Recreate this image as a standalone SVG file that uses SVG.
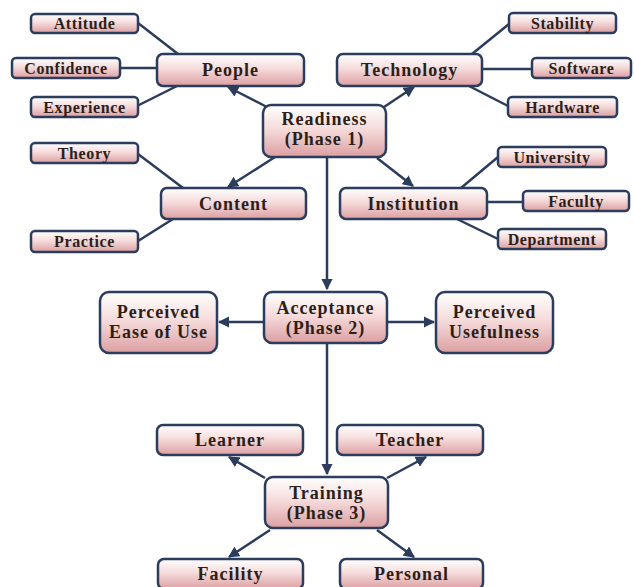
<svg xmlns="http://www.w3.org/2000/svg" width="634" height="587" viewBox="0 0 634 587">
<defs>
<linearGradient id="g" x1="0" y1="0" x2="0" y2="1">
<stop offset="0" stop-color="#ffffff"/>
<stop offset="0.45" stop-color="#f6dcdc"/>
<stop offset="1" stop-color="#dc9fa2"/>
</linearGradient>
<marker id="ah" viewBox="0 0 10 10" refX="9" refY="5" markerWidth="4.5" markerHeight="4.5" orient="auto" markerUnits="strokeWidth">
<path d="M0,0 L10,5 L0,10 Z" fill="#2b3c5c"/>
</marker>
</defs>
<style>
rect{fill:url(#g);stroke:#2b3c5c;stroke-width:2.5}
text{font-family:"Liberation Serif","Times New Roman",serif;font-weight:bold;fill:#2b1f1a;text-anchor:middle}
.s{font-size:16px;letter-spacing:0.6px}
.b{font-size:18px;letter-spacing:1px}
.c line{stroke:#2b3c5c;stroke-width:2.5}
.a{marker-end:url(#ah)}
</style>
<g class="c" id="connectors">
<line x1="138" y1="23" x2="178" y2="54"/>
<line x1="120" y1="68" x2="157" y2="68"/>
<line x1="137" y1="106" x2="177" y2="86"/>
<line x1="472" y1="54" x2="509" y2="24"/>
<line x1="482" y1="69" x2="532" y2="69"/>
<line x1="469" y1="86" x2="508" y2="106"/>
<line x1="138" y1="154" x2="183" y2="188"/>
<line x1="138" y1="241" x2="173" y2="219"/>
<line x1="461" y1="188" x2="498" y2="157"/>
<line x1="487" y1="202" x2="523" y2="202"/>
<line x1="457" y1="219" x2="498" y2="239"/>
<line class="a" x1="267" y1="107" x2="228" y2="87"/>
<line class="a" x1="384" y1="107" x2="414" y2="87"/>
<line class="a" x1="275" y1="157" x2="228" y2="187"/>
<line class="a" x1="377" y1="158" x2="413" y2="186"/>
<line class="a" x1="327" y1="158" x2="327" y2="289"/>
<line class="a" x1="264" y1="322" x2="219" y2="322"/>
<line class="a" x1="387" y1="322" x2="434" y2="322"/>
<line class="a" x1="327" y1="343" x2="327" y2="474"/>
<line class="a" x1="265" y1="478" x2="229" y2="457"/>
<line class="a" x1="387" y1="478" x2="426" y2="457"/>
<line class="a" x1="270" y1="530" x2="229" y2="557"/>
<line class="a" x1="377" y1="530" x2="414" y2="557"/>
</g>
<g id="attitude"><rect x="31" y="14" width="107" height="19" rx="4"/><text class="s" x="84.5" y="29">Attitude</text></g>
<g id="confidence"><rect x="12" y="58" width="108" height="20" rx="4"/><text class="s" x="66" y="73.5">Confidence</text></g>
<g id="experience"><rect x="31" y="97" width="107" height="20" rx="4"/><text class="s" x="84.5" y="112.5">Experience</text></g>
<g id="people"><rect x="157" y="54" width="147" height="32" rx="6"/><text class="b" x="230.5" y="76">People</text></g>
<g id="technology"><rect x="337" y="54" width="145" height="32" rx="6"/><text class="b" x="409.5" y="76">Technology</text></g>
<g id="stability"><rect x="509" y="13" width="107" height="20" rx="4"/><text class="s" x="562.5" y="28.5">Stability</text></g>
<g id="software"><rect x="532" y="58" width="99" height="20" rx="4"/><text class="s" x="581.5" y="73.5">Software</text></g>
<g id="hardware"><rect x="508" y="97" width="109" height="20" rx="4"/><text class="s" x="562.5" y="112.5">Hardware</text></g>
<g id="readiness"><rect x="263" y="105" width="123" height="52" rx="8"/><text class="b" x="324.5" y="125">Readiness</text><text class="b" x="324.5" y="145">(Phase 1)</text></g>
<g id="theory"><rect x="31" y="143" width="107" height="20" rx="4"/><text class="s" x="84.5" y="158.5">Theory</text></g>
<g id="practice"><rect x="31" y="231" width="107" height="21" rx="4"/><text class="s" x="84.5" y="247">Practice</text></g>
<g id="content"><rect x="161" y="188" width="145" height="31" rx="6"/><text class="b" x="233.5" y="209.5">Content</text></g>
<g id="institution"><rect x="340" y="188" width="147" height="31" rx="6"/><text class="b" x="413.5" y="209.5">Institution</text></g>
<g id="university"><rect x="498" y="147" width="108" height="20" rx="4"/><text class="s" x="552" y="162.5">University</text></g>
<g id="faculty"><rect x="523" y="191" width="106" height="20" rx="4"/><text class="s" x="576" y="206.5">Faculty</text></g>
<g id="department"><rect x="498" y="229" width="108" height="20" rx="4"/><text class="s" x="552" y="244.5">Department</text></g>
<g id="ease"><rect x="100" y="292" width="117" height="61" rx="9"/><text class="b" x="158.5" y="318">Perceived</text><text class="b" x="158.5" y="338">Ease of Use</text></g>
<g id="acceptance"><rect x="264" y="292" width="123" height="51" rx="8"/><text class="b" x="325.5" y="314">Acceptance</text><text class="b" x="325.5" y="334">(Phase 2)</text></g>
<g id="usefulness"><rect x="436" y="292" width="117" height="61" rx="9"/><text class="b" x="494.5" y="318">Perceived</text><text class="b" x="494.5" y="338">Usefulness</text></g>
<g id="learner"><rect x="157" y="425" width="146" height="30" rx="6"/><text class="b" x="230" y="446">Learner</text></g>
<g id="teacher"><rect x="337" y="425" width="146" height="30" rx="6"/><text class="b" x="410" y="446">Teacher</text></g>
<g id="training"><rect x="265" y="477" width="123" height="51" rx="8"/><text class="b" x="326.5" y="499">Training</text><text class="b" x="326.5" y="519">(Phase 3)</text></g>
<g id="facility"><rect x="158" y="559" width="145" height="30" rx="6"/><text class="b" x="230.5" y="580">Facility</text></g>
<g id="personal"><rect x="340" y="559" width="143" height="30" rx="6"/><text class="b" x="411.5" y="580">Personal</text></g>
</svg>
